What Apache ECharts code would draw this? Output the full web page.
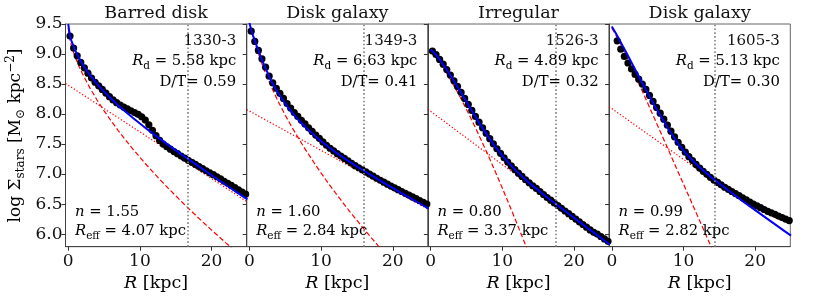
<!DOCTYPE html>
<html><head><meta charset="utf-8">
<script src="https://cdn.jsdelivr.net/npm/echarts@6/dist/echarts.min.js"></script>
<style>html,body{margin:0;padding:0;background:#fff}#c{width:814px;height:301px}</style>
</head><body><div id="c"></div>
<script>
// ---- texts ----
const titles = ['Barred disk', 'Disk galaxy', 'Irregular', 'Disk galaxy'];
const galaxyIds = ['1330-3', '1349-3', '1526-3', '1605-3'];
const rdText = ['5.58', '6.63', '4.89', '5.13'];
const dtText = ['0.59', '0.41', '0.32', '0.30'];
const nText = ['1.55', '1.60', '0.80', '0.99'];
const reffText = ['4.07', '2.84', '3.37', '2.82'];
const xTicks = [0, 10, 20];
const yTicks = [6.0, 6.5, 7.0, 7.5, 8.0, 8.5, 9.0, 9.5];

// ---- vertical dotted marker (kpc) ----
const vLines = [16.65, 16.0, 17.44, 14.42];

// ---- data points (radius, log Sigma) ----
const dotR = [0.25,0.75,1.25,1.75,2.25,2.75,3.25,3.75,4.25,4.75,5.25,5.75,6.25,6.75,7.25,7.75,8.25,8.75,9.25,9.75,10.25,10.75,11.25,11.75,12.25,12.75,13.25,13.75,14.25,14.75,15.25,15.75,16.25,16.75,17.25,17.75,18.25,18.75,19.25,19.75,20.25,20.75,21.25,21.75,22.25,22.75,23.25,23.75,24.25,24.75];
const dots1330 = [9.30,9.10,8.97,8.86,8.77,8.68,8.60,8.53,8.47,8.41,8.35,8.29,8.235,8.19,8.15,8.115,8.085,8.055,8.025,7.995,7.955,7.90,7.82,7.73,7.64,7.56,7.50,7.455,7.415,7.375,7.34,7.30,7.265,7.23,7.195,7.16,7.125,7.09,7.055,7.02,6.99,6.955,6.92,6.88,6.845,6.81,6.775,6.735,6.70,6.665];
const dots1349 = [9.38,9.21,9.06,8.92,8.78,8.63,8.52,8.43,8.345,8.26,8.175,8.10,8.025,7.96,7.895,7.835,7.77,7.71,7.65,7.595,7.535,7.48,7.43,7.385,7.34,7.30,7.26,7.22,7.18,7.14,7.105,7.07,7.035,7.00,6.965,6.93,6.897,6.865,6.832,6.80,6.77,6.74,6.71,6.68,6.65,6.62,6.59,6.56,6.53,6.50];
const dots1526 = [9.05,8.99,8.91,8.83,8.74,8.65,8.555,8.46,8.36,8.26,8.16,8.06,7.96,7.865,7.77,7.68,7.59,7.505,7.42,7.345,7.27,7.20,7.135,7.075,7.015,6.96,6.905,6.855,6.805,6.76,6.71,6.66,6.61,6.565,6.52,6.475,6.43,6.385,6.34,6.295,6.25,6.205,6.16,6.115,6.07,6.03,6.0,5.96,5.92,5.88];
const dots1605 = [null,9.22,9.08,8.96,8.85,8.75,8.66,8.58,8.50,8.41,8.31,8.21,8.11,8.015,7.915,7.815,7.715,7.62,7.53,7.445,7.365,7.29,7.225,7.16,7.10,7.045,6.995,6.945,6.90,6.86,6.82,6.78,6.745,6.71,6.675,6.64,6.605,6.57,6.535,6.50,6.47,6.44,6.41,6.38,6.355,6.33,6.30,6.275,6.25,6.225];

// ---- total fit (blue) ----
const totalR1 = [0,0.25,0.5,1,1.5,2,3,4,5,6,7,8,9,10,11,12,13,14,16,18,20,22,24,25];
const total1330 = [9.50,9.298,9.201,9.052,8.934,8.830,8.655,8.506,8.374,8.254,8.143,8.037,7.937,7.841,7.748,7.657,7.569,7.482,7.311,7.145,6.981,6.818,6.658,6.578];
const totalR2 = [0,0.25,0.5,1,1.5,2,3,4,5,6,7,8,9,10,11,12,13,14,16,18,20,22,24,25];
const total1349 = [9.52,9.40,9.31,9.14,8.98,8.83,8.56,8.35,8.172,8.016,7.881,7.758,7.649,7.547,7.454,7.366,7.283,7.203,7.051,6.906,6.766,6.629,6.493,6.426];
const totalR3 = [0,0.5,1,2,3,4,5,6,7,8,9,10,11,12,13,14,16,18,20,22,24,25];
const total1526 = [9.073,9.020,8.950,8.783,8.599,8.404,8.204,8.004,7.811,7.628,7.459,7.306,7.169,7.045,6.933,6.828,6.634,6.452,6.271,6.092,5.915,5.826];
const totalR4 = [0,0.5,1,1.5,2,3,4,5,6,7,8,9,10,11,12,13,14,15,16,18,20,22,24,25];
const total1605 = [9.46,9.36,9.25,9.14,9.03,8.80,8.57,8.35,8.13,7.93,7.73,7.55,7.39,7.26,7.14,7.035,6.935,6.84,6.75,6.571,6.399,6.228,6.058,5.974];

// ---- bulge (red dashed) ----
const bulgeR1 = [0,0.25,0.5,1,1.5,2,3,4,5,6,7,8,9,10,11,12,13,14,16,18,20,22,23];
const bulge1330 = [9.429,9.230,9.118,8.942,8.797,8.668,8.440,8.238,8.054,7.883,7.721,7.567,7.420,7.279,7.143,7.011,6.883,6.758,6.518,6.288,6.067,5.854,5.750];
const bulgeR2 = [0.25,0.5,0.75,1,1.5,2,3,4,5,6,7,8,9,10,11,12,14,16,18,19];
const bulge1349 = [9.37,9.29,9.19,9.10,8.92,8.756,8.467,8.212,7.981,7.766,7.566,7.374,7.192,7.017,6.849,6.687,6.376,6.082,5.801,5.665];
const bulgeR3 = [0,0.5,1,2,3,4,5,6,7,8,9,10,11,12,13,14];
const bulge1526 = [9.03,8.976,8.903,8.727,8.528,8.310,8.079,7.835,7.581,7.318,7.046,6.767,6.481,6.188,5.889,5.584];
const bulgeR4 = [0,0.5,1,1.5,2,3,4,5,6,7,8,9,10,11,12,13,14];
const bulge1605 = [9.43,9.33,9.22,9.10,8.98,8.718,8.450,8.182,7.913,7.643,7.374,7.103,6.833,6.562,6.291,6.020,5.749];

// ---- disk (red dotted) ----
const diskR = [-0.38, 25];
const disk1330 = [8.51, 6.535];
const disk1349 = [8.075, 6.41];
const disk1526 = [8.08, 5.826];
const disk1605 = [8.123, 5.974];

const dotsAll = [dots1330, dots1349, dots1526, dots1605];
const totalRAll = [totalR1, totalR2, totalR3, totalR4];
const totalAll = [total1330, total1349, total1526, total1605];
const bulgeRAll = [bulgeR1, bulgeR2, bulgeR3, bulgeR4];
const bulgeAll = [bulge1330, bulge1349, bulge1526, bulge1605];
const diskAll = [disk1330, disk1349, disk1526, disk1605];

// ---- layout ----
const FONT = 'DejaVu Serif';
const gridLeft0 = 65.5, gridW = 181.2, gridTop = 24, gridH = 222.7;
const X_MIN = -0.38, X_MAX = 24.9, Y_MIN = 5.79, Y_MAX = 9.5;

const pair = (xs, ys) => xs.map((x, k) => [x, ys[k]]).filter(p => p[1] !== null);

const grid = [], xAxis = [], yAxis = [], series = [], graphic = [];
for (let i = 0; i < 4; i++) {
  const L = gridLeft0 + i * gridW;
  grid.push({left: L, top: gridTop, width: gridW, height: gridH, show: true,
    borderColor: '#666', borderWidth: 1, backgroundColor: 'transparent',
    containLabel: false, outerBoundsMode: 'none'});
  xAxis.push({type: 'value', gridIndex: i, min: X_MIN, max: X_MAX,
    axisLine: {show: true, onZero: false, lineStyle: {color: '#444', width: 1}},
    axisTick: {show: true, length: 4, customValues: xTicks, lineStyle: {color: '#333'}},
    axisLabel: {show: true, customValues: xTicks, fontFamily: FONT, fontSize: 17, color: '#111', margin: 6,
      formatter: v => String(v)},
    splitLine: {show: false}});
  yAxis.push({type: 'value', gridIndex: i, min: Y_MIN, max: Y_MAX,
    axisLine: {show: true, onZero: false, lineStyle: {color: '#444', width: 1}},
    axisTick: {show: true, length: 4, customValues: yTicks, lineStyle: {color: '#333'}},
    axisLabel: {show: i === 0, customValues: yTicks, fontFamily: FONT, fontSize: 17, color: '#111', margin: 3,
      formatter: v => v.toFixed(1)},
    splitLine: {show: false}});

  series.push({type: 'line', xAxisIndex: i, yAxisIndex: i, data: pair(diskR, diskAll[i]),
    showSymbol: false, symbol: 'none', z: 2, silent: true,
    lineStyle: {color: '#ff0000', width: 1.2, type: [1.3, 2]}});
  series.push({type: 'line', xAxisIndex: i, yAxisIndex: i, data: pair(bulgeRAll[i], bulgeAll[i]),
    showSymbol: false, symbol: 'none', z: 2, silent: true, smooth: false,
    lineStyle: {color: '#ff0000', width: 1.2, type: [5, 2.5]}});
  series.push({type: 'scatter', xAxisIndex: i, yAxisIndex: i, data: pair(dotR, dotsAll[i]),
    symbol: 'circle', symbolSize: 7.2, z: 3, silent: true,
    itemStyle: {color: '#000000', opacity: 1},
    markLine: {silent: true, symbol: 'none', label: {show: false},
      lineStyle: {color: '#808080', width: 1.6, type: [1.6, 2.2]},
      data: [{xAxis: vLines[i]}]}});
  series.push({type: 'line', xAxisIndex: i, yAxisIndex: i, data: pair(totalRAll[i], totalAll[i]),
    showSymbol: false, symbol: 'none', z: 4, silent: true, smooth: false,
    lineStyle: {color: '#0000ff', width: 2}});

  const cx = L + gridW / 2;
  const right = L + gridW - 10.5;
  const left = L + 9.5;
  const rich = {
    t: {fontFamily: FONT, fontSize: 14.8, lineHeight: 20, color: '#111'},
    i: {fontFamily: FONT, fontSize: 14.8, lineHeight: 20, fontStyle: 'italic', color: '#111'},
    sub: {fontFamily: FONT, fontSize: 10.5, lineHeight: 10, verticalAlign: 'bottom', color: '#111'}
  };
  graphic.push({type: 'text', x: cx, y: 13, z: 100, silent: true,
    style: {text: titles[i], font: '17.5px "DejaVu Serif"', fill: '#111', align: 'center', verticalAlign: 'middle'}});
  graphic.push({type: 'text', x: right, y: 41, z: 100, silent: true,
    style: {text: galaxyIds[i], font: '15px "DejaVu Serif"', fill: '#111', align: 'right', verticalAlign: 'middle'}});
  graphic.push({type: 'text', x: right, y: 61.5, z: 100, silent: true,
    style: {text: '{i|R}{sub|d}{t| = ' + rdText[i] + ' kpc}', rich: rich, align: 'right', verticalAlign: 'middle'}});
  graphic.push({type: 'text', x: right, y: 82, z: 100, silent: true,
    style: {text: '{t|D/T= ' + dtText[i] + '}', rich: rich, align: 'right', verticalAlign: 'middle'}});
  graphic.push({type: 'text', x: left, y: 212, z: 100, silent: true,
    style: {text: '{i|n}{t| = ' + nText[i] + '}', rich: rich, align: 'left', verticalAlign: 'middle'}});
  graphic.push({type: 'text', x: left, y: 231.5, z: 100, silent: true,
    style: {text: '{i|R}{sub|eff}{t| = ' + reffText[i] + ' kpc}', rich: rich, align: 'left', verticalAlign: 'middle'}});
  graphic.push({type: 'text', x: cx, y: 283, z: 100, silent: true,
    style: {text: '{i|R}{t| [kpc]}', align: 'center', verticalAlign: 'middle',
      rich: {
        t: {fontFamily: FONT, fontSize: 17.5, lineHeight: 22, color: '#111'},
        i: {fontFamily: FONT, fontSize: 17.5, lineHeight: 22, fontStyle: 'italic', color: '#111'}
      }}});
}
graphic.push({type: 'text', x: 16, y: 135.5, rotation: Math.PI / 2, z: 100, silent: true,
  style: {text: '{t|log }{t|Σ}{sub|stars}{t| [M}{sub|⊙}{t| kpc}{sup|−2}{t|]}', align: 'center', verticalAlign: 'middle',
    rich: {
      t: {fontFamily: FONT, fontSize: 17, lineHeight: 22, color: '#111'},
      sub: {fontFamily: FONT, fontSize: 12, lineHeight: 10, verticalAlign: 'bottom', color: '#111'},
      sup: {fontFamily: FONT, fontSize: 12, lineHeight: 10, verticalAlign: 'top', color: '#111'}
    }}});

const chart = echarts.init(document.getElementById('c'), null, {renderer: 'canvas'});
chart.setOption({animation: false, backgroundColor: '#ffffff', grid, xAxis, yAxis, series, graphic});
</script></body></html>
